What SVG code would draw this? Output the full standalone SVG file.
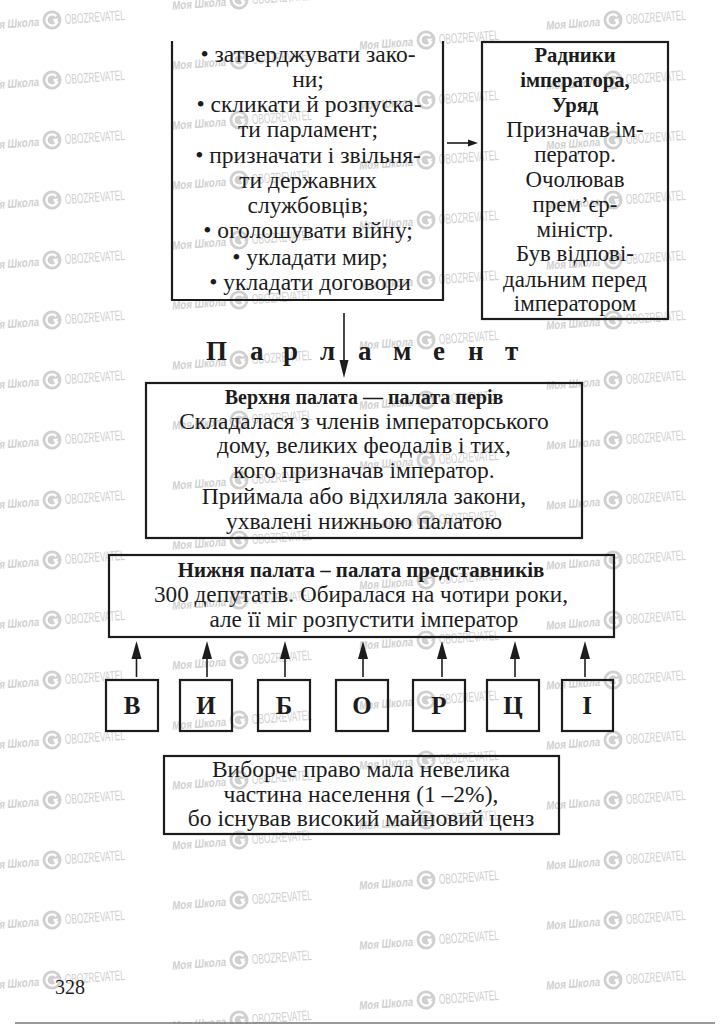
<svg xmlns="http://www.w3.org/2000/svg" xmlns:xlink="http://www.w3.org/1999/xlink" width="725" height="1024" viewBox="0 0 725 1024">
<style>
text{font-family:"Liberation Serif","Times New Roman",serif;fill:#1c1c1c;text-anchor:middle}
.t{font-size:23.500px}
.r{font-size:22.900px}
.h{font-size:20.700px;font-weight:bold}
.s{font-size:23.500px}
.l{font-size:23.200px}
.u{font-size:20px;font-weight:bold}
.n{font-size:20.900px;font-weight:bold}
.v{font-size:25px;font-weight:bold}
.box{fill:none;stroke:#1c1c1c;stroke-width:2.200}
.line{fill:none;stroke:#1c1c1c;stroke-width:1.600}
.head{fill:#1c1c1c;stroke:none}
.wa{font-family:"Liberation Sans",Arial,sans-serif;font-size:12px;font-weight:bold;font-style:italic;fill:#d0d0d0;text-anchor:start}
.wb{font-family:"Liberation Sans",Arial,sans-serif;font-size:14px;fill:#d0d0d0;text-anchor:start}
</style>
<defs>
<g id="wm" transform="rotate(-4)">
<text class="wa" x="-67" y="5" textLength="54" lengthAdjust="spacingAndGlyphs">Моя Школа</text>
<circle r="9.500" fill="#d0d0d0"/>
<path d="M4.500 -3.500A5.600 5.600 0 1 0 5.500 1.500" fill="none" stroke="#fff" stroke-width="2.200"/>
<path d="M1 -1L6.500 -1L3 4Z" fill="#fff"/>
<text class="wb" x="13" y="5" textLength="60" lengthAdjust="spacingAndGlyphs">OBOZREVATEL</text>
</g>
<g id="col">
<use href="#wm" y="0"/><use href="#wm" y="60"/><use href="#wm" y="120"/><use href="#wm" y="180"/><use href="#wm" y="240"/><use href="#wm" y="300"/><use href="#wm" y="360"/><use href="#wm" y="420"/><use href="#wm" y="480"/><use href="#wm" y="540"/><use href="#wm" y="600"/><use href="#wm" y="660"/><use href="#wm" y="720"/><use href="#wm" y="780"/><use href="#wm" y="840"/><use href="#wm" y="900"/><use href="#wm" y="960"/>
</g>
</defs>
<rect width="725" height="1024" fill="#fff"/>
<g id="watermarks">
<use href="#col" x="52" y="20"/>
<use href="#col" x="239" y="0"/>
<use href="#wm" x="239" y="1020"/>
<use href="#col" x="426" y="40"/>
<use href="#col" x="613" y="20"/>
</g>
<g id="connectors">
<path class="line" d="M447 143H472"/><path class="head" d="M478 143L468 139.500L468 146.500Z"/>
<path class="line" d="M344 313V365"/><path class="head" d="M344 378L339.500 360L348.500 360Z"/>
<path class="line" d="M136.500 677V655"/><path class="head" d="M136.500 641L131.500 659L141.500 659Z"/>
<path class="line" d="M207 677V655"/><path class="head" d="M207 641L202 659L212 659Z"/>
<path class="line" d="M285 677V655"/><path class="head" d="M285 641L280 659L290 659Z"/>
<path class="line" d="M363 677V655"/><path class="head" d="M363 641L358 659L368 659Z"/>
<path class="line" d="M442 677V655"/><path class="head" d="M442 641L437 659L447 659Z"/>
<path class="line" d="M515 677V655"/><path class="head" d="M515 641L510 659L520 659Z"/>
<path class="line" d="M585 677V655"/><path class="head" d="M585 641L580 659L590 659Z"/>
</g>
<g id="powers">
<path class="box" d="M172 41V300H443V41"/>
<text class="t" x="308" y="62">• затверджувати зако-</text>
<text class="t" x="308" y="87">ни;</text>
<text class="t" x="309" y="112">• скликати й розпуска-</text>
<text class="t" x="308" y="137">ти парламент;</text>
<text class="t" x="308" y="163">• призначати і звільня-</text>
<text class="t" x="308" y="188">ти державних</text>
<text class="t" x="308" y="213">службовців;</text>
<text class="t" x="308" y="238">• оголошувати війну;</text>
<text class="t" x="310" y="265">• укладати мир;</text>
<text class="t" x="310" y="290">• укладати договори</text>
</g>
<g id="advisers">
<rect class="box" x="482" y="42" width="186" height="277"/>
<text class="h" x="575" y="62">Радники</text>
<text class="h" x="575" y="87">імператора,</text>
<text class="h" x="575" y="112">Уряд</text>
<text class="r" x="575" y="137">Призначав ім-</text>
<text class="r" x="575" y="162">ператор.</text>
<text class="r" x="575" y="187">Очолював</text>
<text class="r" x="575" y="212">прем’єр-</text>
<text class="r" x="575" y="237">міністр.</text>
<text class="r" x="575" y="261">Був відпові-</text>
<text class="r" x="575" y="287">дальним перед</text>
<text class="r" x="575" y="311">імператором</text>
</g>
<g id="parliament-title">
<text font-size="27" font-weight="bold" style="text-anchor:start" x="206 250 283 320 358 393 433 468 505" y="360">Парламент</text>
</g>
<g id="upper-house">
<rect class="box" x="146" y="383" width="436" height="155"/>
<text class="u" x="364" y="404">Верхня палата — палата перів</text>
<text class="s" x="364" y="429">Складалася з членів імператорського</text>
<text class="s" x="364" y="453">дому, великих феодалів і тих,</text>
<text class="s" x="364" y="478">кого призначав імператор.</text>
<text class="s" x="364" y="504">Приймала або відхиляла закони,</text>
<text class="s" x="364" y="529">ухвалені нижньою палатою</text>
</g>
<g id="lower-house">
<rect class="box" x="109" y="555" width="505" height="82"/>
<text class="n" x="361" y="577">Нижня палата – палата представників</text>
<text class="l" x="361" y="602">300 депутатів. Обиралася на чотири роки,</text>
<text class="l" x="364" y="627">але її міг розпустити імператор</text>
</g>
<g id="voter-v"><rect class="box" x="106" y="680" width="52" height="51"/><text class="v" x="132" y="714">В</text></g>
<g id="voter-y"><rect class="box" x="180" y="680" width="52" height="51"/><text class="v" x="206" y="714">И</text></g>
<g id="voter-b"><rect class="box" x="258" y="680" width="52" height="51"/><text class="v" x="284" y="714">Б</text></g>
<g id="voter-o"><rect class="box" x="336" y="680" width="52" height="51"/><text class="v" x="362" y="714">О</text></g>
<g id="voter-r"><rect class="box" x="413" y="680" width="52" height="51"/><text class="v" x="439" y="714">Р</text></g>
<g id="voter-ts"><rect class="box" x="487" y="680" width="52" height="51"/><text class="v" x="513" y="714">Ц</text></g>
<g id="voter-i"><rect class="box" x="562" y="680" width="51" height="51"/><text class="v" x="587" y="714">І</text></g>
<g id="suffrage">
<rect class="box" x="164" y="756" width="395" height="78"/>
<text class="s" x="361" y="777">Виборче право мала невелика</text>
<text class="s" x="361" y="802">частина населення (1 –2%),</text>
<text class="s" x="361" y="826">бо існував високий майновий ценз</text>
</g>
<text x="70" y="994" font-size="22" textLength="30" lengthAdjust="spacingAndGlyphs">328</text>
<path d="M15 1023H715" stroke="#777" stroke-width="1.500" fill="none"/>
</svg>
